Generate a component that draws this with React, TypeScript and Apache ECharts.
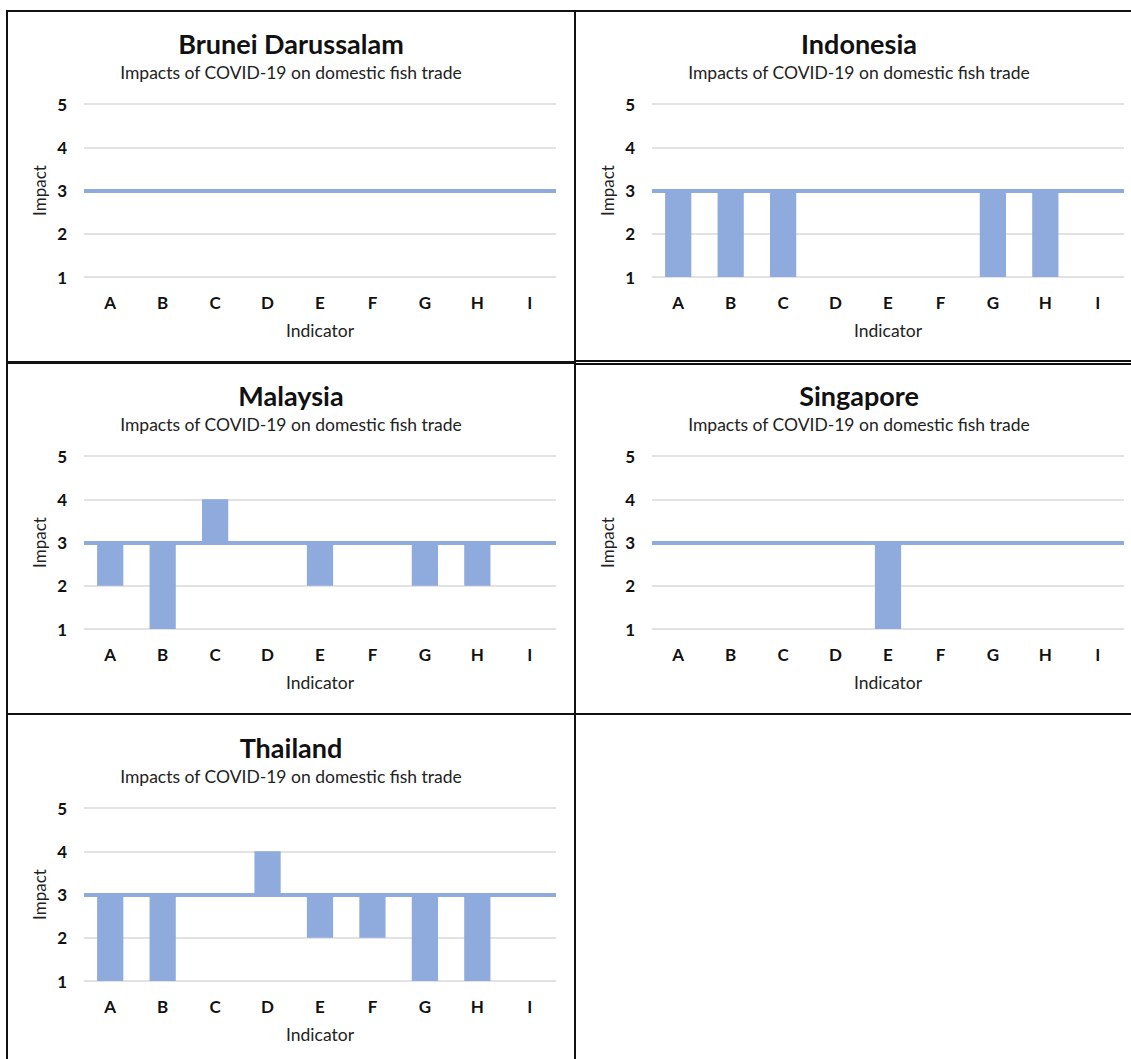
import React, { useEffect, useRef } from "react";
import * as echarts from "echarts";

const countries = ["Brunei Darussalam", "Indonesia", "Malaysia", "Singapore", "Thailand"];
const subtitle = "Impacts of COVID-19 on domestic fish trade";
const indicators = ["A", "B", "C", "D", "E", "F", "G", "H", "I"];
const baseline = 3;

const bruneiValues = [3, 3, 3, 3, 3, 3, 3, 3, 3];
const indonesiaValues = [1, 1, 1, 3, 3, 3, 1, 1, 3];
const malaysiaValues = [2, 1, 4, 3, 2, 3, 2, 2, 3];
const singaporeValues = [3, 3, 3, 3, 1, 3, 3, 3, 3];
const thailandValues = [1, 1, 3, 4, 2, 2, 1, 1, 3];

const allValues = [bruneiValues, indonesiaValues, malaysiaValues, singaporeValues, thailandValues];

const BAR = "#8faadc";
const FONT = "Lato, 'Open Sans', sans-serif";

export default function App() {
  const ref = useRef<HTMLDivElement>(null);
  useEffect(() => {
    if (!ref.current) return;
    const chart = echarts.init(ref.current, undefined, { renderer: "svg" });
    const panelW = 568;
    const rowOff = [0, 352, 704];
    const grids: any[] = [];
    const xAxes: any[] = [];
    const yAxes: any[] = [];
    const series: any[] = [];
    const graphics: any[] = [];

    const borders = [
      { x: 7, y: 11, w: 568, h: 351 },
      { x: 575, y: 11, w: 570, h: 350 },
      { x: 7, y: 363, w: 568, h: 351 },
      { x: 575, y: 364, w: 570, h: 350 },
      { x: 7, y: 714, w: 568, h: 360 },
    ];
    borders.forEach((b) => {
      graphics.push({
        type: "rect",
        shape: { x: b.x, y: b.y, width: b.w, height: b.h },
        style: { fill: "none", stroke: "#111", lineWidth: 2 },
        silent: true,
      });
    });

    countries.forEach((name, i) => {
      const col = i % 2;
      const row = Math.floor(i / 2);
      const ox = col * panelW;
      const oy = rowOff[row];
      const vals = allValues[i];
      grids.push({ left: 84 + ox, top: 104 + oy, width: 472, height: 173, containLabel: false });
      xAxes.push({
        type: "category",
        gridIndex: i,
        data: indicators,
        name: "Indicator",
        nameLocation: "middle",
        nameGap: 44,
        nameTextStyle: { fontFamily: FONT, fontSize: 17.5, color: "#222" },
        axisLine: { show: false },
        axisTick: { show: false },
        axisLabel: { margin: 17, fontFamily: FONT, fontSize: 17, fontWeight: "bold", color: "#111" },
      });
      yAxes.push({
        type: "value",
        gridIndex: i,
        min: 1,
        max: 5,
        interval: 1,
        name: "Impact",
        nameLocation: "middle",
        nameGap: 36,
        nameTextStyle: { fontFamily: FONT, fontSize: 17, color: "#222" },
        axisLine: { show: false },
        axisTick: { show: false },
        axisLabel: { margin: 17, fontFamily: FONT, fontSize: 17, fontWeight: "bold", color: "#111" },
        splitLine: { lineStyle: { color: "#d9d9d9", width: 1.5 } },
      });
      series.push({
        type: "bar",
        xAxisIndex: i,
        yAxisIndex: i,
        stack: "s" + i,
        barCategoryGap: "50%",
        itemStyle: { color: "rgba(0,0,0,0)" },
        data: vals.map((v) => Math.min(v, baseline)),
        silent: true,
      });
      series.push({
        type: "bar",
        xAxisIndex: i,
        yAxisIndex: i,
        stack: "s" + i,
        barCategoryGap: "50%",
        itemStyle: { color: BAR },
        data: vals.map((v) => Math.abs(v - baseline)),
        markLine: {
          silent: true,
          symbol: "none",
          label: { show: false },
          lineStyle: { color: BAR, width: 4, type: "solid" },
          data: [{ yAxis: baseline }],
        },
      });
      const cx = 291 + ox;
      graphics.push({
        type: "text",
        x: cx,
        y: 43 + oy,
        style: {
          text: name,
          textAlign: "center",
          textVerticalAlign: "middle",
          fontFamily: FONT,
          fontSize: 27,
          fontWeight: "bold",
          fill: "#111",
        },
      });
      graphics.push({
        type: "text",
        x: cx,
        y: 72 + oy,
        style: {
          text: subtitle,
          textAlign: "center",
          textVerticalAlign: "middle",
          fontFamily: FONT,
          fontSize: 17.5,
          fill: "#222",
        },
      });
    });

    chart.setOption({
      animation: false,
      backgroundColor: "#fff",
      grid: grids,
      xAxis: xAxes,
      yAxis: yAxes,
      series,
      graphic: graphics,
    });
    return () => chart.dispose();
  }, []);
  return (
    <div
      ref={ref}
      style={{ position: "absolute", left: 0, top: 0, width: 1131, height: 1059 }}
    />
  );
}
